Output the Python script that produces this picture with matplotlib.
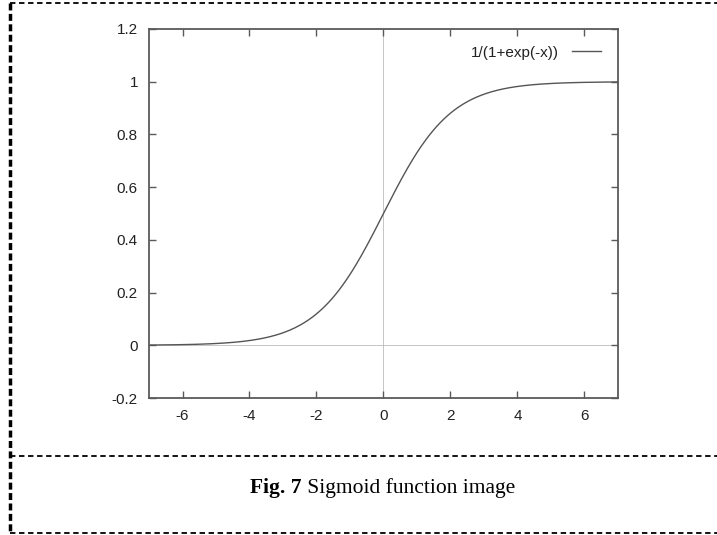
import numpy as np
import matplotlib
matplotlib.use("Agg")
import matplotlib.pyplot as plt
from matplotlib.lines import Line2D

# Data
x_vals = np.linspace(-7, 7, 400)
y_vals = 1.0 / (1.0 + np.exp(-x_vals))
x_ticks = [-6, -4, -2, 0, 2, 4, 6]
y_ticks = [-0.2, 0, 0.2, 0.4, 0.6, 0.8, 1, 1.2]
y_tick_labels = ["-0.2", "0", "0.2", "0.4", "0.6", "0.8", "1", "1.2"]
legend_label = "1/(1+exp(-x))"
caption_bold = "Fig. 7"
caption_rest = " Sigmoid function image"

W, H = 717, 535
fig = plt.figure(figsize=(W / 100, H / 100), dpi=100)
fig.patch.set_facecolor("white")

ax = fig.add_axes([149 / W, 1 - 398 / H, (618 - 149) / W, (398 - 29) / H])
axis_col = "#5a5a5a"
ax.plot(x_vals, y_vals, color="#555555", lw=1.0, label=legend_label)
ax.axhline(0, color="#bbbbbb", lw=0.6, zorder=0)
ax.axvline(0, color="#bbbbbb", lw=0.6, zorder=0)
ax.set_xlim(-7, 7)
ax.set_ylim(-0.2, 1.2)
ax.set_xticks(x_ticks)
ax.set_xticklabels([str(t) for t in x_ticks])
ax.set_yticks(y_ticks)
ax.set_yticklabels(y_tick_labels)
for s in ax.spines.values():
    s.set_color(axis_col)
    s.set_linewidth(1.3)
ax.tick_params(direction="in", length=5, width=1, color=axis_col,
               top=True, right=True, labelsize=11, labelcolor="#222222")
ax.tick_params(axis="y", pad=8)
ax.tick_params(axis="x", pad=8)
for lab in ax.get_xticklabels() + ax.get_yticklabels():
    lab.set_family("Liberation Sans")

leg = ax.legend(loc="upper right", frameon=False, markerfirst=False,
                handlelength=1.9, handletextpad=0.9, borderaxespad=0.7,
                prop={"family": "Liberation Sans", "size": 11})
for t in leg.get_texts():
    t.set_color("#222222")

# Dashed borders
dash = dict(color="black", linestyle=(0, (3, 2)), transform=fig.transFigure, clip_on=False)
fig.add_artist(Line2D([10 / W, 1], [1 - 3 / H, 1 - 3 / H], lw=1.3, **dash))
fig.add_artist(Line2D([10 / W, 1], [1 - 456 / H, 1 - 456 / H], lw=1.3, **dash))
fig.add_artist(Line2D([10 / W, 1], [1 - 533 / H, 1 - 533 / H], lw=1.3, **dash))
fig.add_artist(Line2D([10 / W, 10 / W], [1 - 3 / H, 1 - 533 / H], lw=2.5,
                      color="black", linestyle=(0, (2, 1)), transform=fig.transFigure))

# Caption
t1 = fig.text(250 / W, 1 - 488 / H, caption_bold, fontsize=15.5, fontweight="bold",
              family="Liberation Serif", va="center", ha="left")
fig.canvas.draw()
bb = t1.get_window_extent()
fig.text(bb.x1 / W, 1 - 488 / H, caption_rest, fontsize=15.5,
         family="Liberation Serif", va="center", ha="left")

fig.savefig("out.png", dpi=100)
